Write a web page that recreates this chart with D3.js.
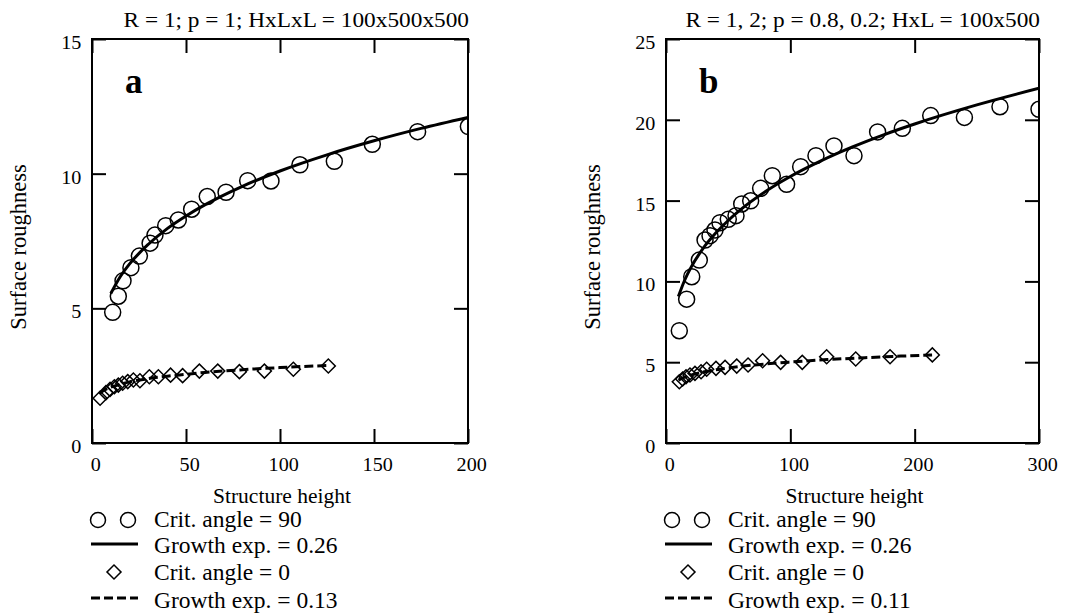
<!DOCTYPE html>
<html lang="en">
<head>
<meta charset="UTF-8">
<title>Surface roughness vs structure height</title>
<script src="https://d3js.org/d3.v7.min.js"></script>
<style>
    body { margin: 0; background: #fff; }
    svg text { font-family: "Liberation Serif", "Times New Roman", serif; fill: #000; }
</style>
</head>
<body>
<div id="chart"></div>
<script>
    // ---- panel a : R = 1; p = 1 ----
    var titleA = "R = 1; p = 1; HxLxL = 100x500x500";
    var xTicksA = [0, 50, 100, 150, 200];
    var yTicksA = [0, 5, 10, 15];
    var circX_A = [11, 14, 16.5, 20.7, 25.2, 30.9, 33.5, 39.2, 45.9, 53, 61.3, 71.3, 82.8, 95.2, 110.6, 128.9, 149.1, 173.2, 200.2];
    var circY_A = [4.85, 5.45, 6.02, 6.51, 6.94, 7.42, 7.72, 8.07, 8.28, 8.68, 9.15, 9.31, 9.74, 9.73, 10.33, 10.46, 11.09, 11.56, 11.75];
    var fitX_A = [10, 15, 20, 30, 40, 50, 60, 80, 100, 125, 150, 175, 200];
    var fitY_A = [5.55, 6.17, 6.65, 7.38, 7.96, 8.43, 8.84, 9.53, 10.1, 10.7, 11.22, 11.68, 12.09];
    var diaX_A = [4.3, 7.4, 9.6, 11.9, 14, 16.3, 19, 22, 25.5, 30.5, 35.3, 41.8, 48.2, 57.1, 66.9, 78.4, 91.7, 107.1, 125.7];
    var diaY_A = [1.66, 1.87, 1.99, 2.09, 2.15, 2.22, 2.28, 2.34, 2.31, 2.46, 2.46, 2.52, 2.5, 2.67, 2.67, 2.65, 2.67, 2.74, 2.86];
    var dashX_A = [4, 6, 10, 15, 20, 30, 40, 50, 60, 80, 100, 126];
    var dashY_A = [1.84, 1.94, 2.07, 2.18, 2.27, 2.39, 2.48, 2.55, 2.62, 2.72, 2.8, 2.88];
    var legendA = ["Crit. angle = 90", "Growth exp. = 0.26", "Crit. angle = 0", "Growth exp. = 0.13"];

    // ---- panel b : R = 1, 2; p = 0.8, 0.2 ----
    var titleB = "R = 1, 2; p = 0.8, 0.2; HxL = 100x500";
    var xTicksB = [0, 100, 200, 300];
    var yTicksB = [0, 5, 10, 15, 20, 25];
    var circX_B = [10.7, 16.6, 20.7, 26.8, 31.4, 35.4, 39.4, 43.4, 50.1, 56.3, 60.9, 68.1, 76.1, 85.5, 97, 108.3, 120.6, 135.1, 151.2, 170.2, 190.1, 212.9, 240, 268.6, 300];
    var circY_B = [6.95, 8.9, 10.29, 11.32, 12.56, 12.83, 13.18, 13.63, 13.84, 14.07, 14.79, 14.99, 15.76, 16.54, 16.01, 17.1, 17.78, 18.38, 17.78, 19.25, 19.47, 20.26, 20.15, 20.81, 20.65];
    var fitX_B = [10, 15, 20, 30, 40, 50, 60, 80, 100, 125, 150, 175, 200, 250, 300];
    var fitY_B = [9.07, 10.07, 10.85, 12.06, 12.99, 13.77, 14.44, 15.56, 16.49, 17.47, 18.32, 19.07, 19.74, 20.92, 21.95];
    var diaX_B = [10.7, 13.4, 16.1, 19.3, 23.3, 28.2, 32.7, 40.2, 47.5, 56.9, 66, 77.7, 92.2, 109.6, 129.2, 152.6, 180.2, 214.2];
    var diaY_B = [3.79, 3.96, 4.1, 4.21, 4.31, 4.41, 4.56, 4.62, 4.68, 4.76, 4.83, 5.09, 4.99, 4.99, 5.34, 5.2, 5.34, 5.45];
    var dashX_B = [10, 15, 20, 30, 40, 60, 80, 100, 130, 160, 190, 214];
    var dashY_B = [3.89, 4.07, 4.2, 4.39, 4.53, 4.74, 4.89, 5.01, 5.16, 5.28, 5.38, 5.45];
    var legendB = ["Crit. angle = 90", "Growth exp. = 0.26", "Crit. angle = 0", "Growth exp. = 0.11"];

    var W = 1069, H = 616;
    var stretch = 1.06; // title and tick numbers run a bit wide in the original
    var svg = d3.select("#chart").append("svg")
        .attr("width", W)
        .attr("height", H);

    function zip(xs, ys) {
        return xs.map(function (d, i) { return [d, ys[i]]; });
    }

    function panel(p) {
        var left = p.left, right = p.right, top = 39, bottom = 443;
        var x = d3.scaleLinear().domain([0, p.xMax]).range([left, right]);
        var y = d3.scaleLinear().domain([0, p.yMax]).range([bottom, top]);

        var clipId = "clip" + p.id;
        svg.append("clipPath").attr("id", clipId)
            .append("rect")
            .attr("x", left).attr("y", top)
            .attr("width", right - left).attr("height", bottom - top);

        // axes with inward ticks
        var gL = svg.append("g").attr("transform", "translate(" + left + ",0)")
            .call(d3.axisLeft(y).tickValues(p.yTicks).tickSize(-14).tickPadding(10));
        gL.selectAll("text").attr("dy", "0.5em");
        var gB = svg.append("g").attr("transform", "translate(0," + bottom + ")")
            .call(d3.axisBottom(x).tickValues(p.xTicks).tickSize(-14).tickPadding(0));
        gB.selectAll("text").attr("dy", 0).attr("y", 28).attr("dx", 3);
        svg.append("g").attr("transform", "translate(" + right + ",0)")
            .call(d3.axisRight(y).tickValues(p.yTicks).tickSize(-14).tickFormat(""));
        svg.append("g").attr("transform", "translate(0," + top + ")")
            .call(d3.axisTop(x).tickValues(p.xTicks).tickSize(-14).tickFormat(""));

        svg.selectAll(".domain").remove();
        svg.selectAll(".tick line").attr("stroke", "#000").attr("stroke-width", 2);
        svg.selectAll(".tick text")
            .style("font-size", "19px")
            .style("font-family", "Liberation Serif, serif")
            .attr("transform", "scale(" + stretch + ",1)");

        svg.append("rect")
            .attr("x", left).attr("y", top)
            .attr("width", right - left).attr("height", bottom - top)
            .attr("fill", "none").attr("stroke", "#000").attr("stroke-width", 2);

        // title
        svg.append("text")
            .attr("transform", "translate(" + (right + 1) + ",27) scale(" + stretch + ",1)")
            .attr("text-anchor", "end")
            .style("font-size", "22px")
            .text(p.title);

        // panel letter
        svg.append("text")
            .attr("x", left + 33).attr("y", 93)
            .style("font-size", "35px")
            .style("font-weight", "bold")
            .text(p.letter);

        // axis titles
        svg.append("text")
            .attr("x", (left + right) / 2 + 2).attr("y", 503)
            .attr("text-anchor", "middle")
            .style("font-size", "21.5px")
            .text("Structure height");
        svg.append("text")
            .attr("transform", "translate(" + (left - 66) + ",247) rotate(-90)")
            .attr("text-anchor", "middle")
            .style("font-size", "22.5px")
            .text("Surface roughness");

        var plot = svg.append("g").attr("clip-path", "url(#" + clipId + ")");
        var line = d3.line()
            .x(function (d) { return x(d[0]); })
            .y(function (d) { return y(d[1]); })
            .curve(d3.curveMonotoneX);

        plot.append("path")
            .datum(zip(p.fitX, p.fitY))
            .attr("d", line)
            .attr("fill", "none").attr("stroke", "#000").attr("stroke-width", 3);
        plot.append("path")
            .datum(zip(p.dashX, p.dashY))
            .attr("d", line)
            .attr("fill", "none").attr("stroke", "#000").attr("stroke-width", 3)
            .attr("stroke-dasharray", "9,4");

        plot.selectAll(".circ").data(zip(p.circX, p.circY)).enter()
            .append("circle")
            .attr("cx", function (d) { return x(d[0]); })
            .attr("cy", function (d) { return y(d[1]); })
            .attr("r", 8)
            .attr("fill", "none").attr("stroke", "#000").attr("stroke-width", 1.5);

        var diamond = d3.symbol().type(d3.symbolSquare).size(98);
        plot.selectAll(".dia").data(zip(p.diaX, p.diaY)).enter()
            .append("path")
            .attr("d", diamond)
            .attr("transform", function (d) { return "translate(" + x(d[0]) + "," + y(d[1]) + ") rotate(45)"; })
            .attr("fill", "none").attr("stroke", "#000").attr("stroke-width", 1.5);

        // legend
        var lg = svg.append("g");
        var rows = [520, 544, 572, 598];
        var baselines = [527, 553, 580, 608];
        lg.selectAll("circle").data([left + 6, left + 36]).enter()
            .append("circle")
            .attr("cx", function (d) { return d; }).attr("cy", rows[0])
            .attr("r", 7.5)
            .attr("fill", "none").attr("stroke", "#000").attr("stroke-width", 1.5);
        lg.append("line")
            .attr("x1", left - 1).attr("x2", left + 46)
            .attr("y1", rows[1]).attr("y2", rows[1])
            .attr("stroke", "#000").attr("stroke-width", 3);
        lg.append("path")
            .attr("d", diamond)
            .attr("transform", "translate(" + (left + 22) + "," + rows[2] + ") rotate(45)")
            .attr("fill", "none").attr("stroke", "#000").attr("stroke-width", 1.5);
        lg.append("line")
            .attr("x1", left - 1).attr("x2", left + 46)
            .attr("y1", rows[3]).attr("y2", rows[3])
            .attr("stroke", "#000").attr("stroke-width", 3)
            .attr("stroke-dasharray", "9,4");
        lg.selectAll("text").data(p.legend).enter()
            .append("text")
            .attr("x", left + 62)
            .attr("y", function (d, i) { return baselines[i]; })
            .style("font-size", "23.5px")
            .text(function (d) { return d; });
    }

    panel({
        id: "a", letter: "a", title: titleA, left: 92, right: 468, xMax: 200, yMax: 15,
        xTicks: xTicksA, yTicks: yTicksA,
        circX: circX_A, circY: circY_A, fitX: fitX_A, fitY: fitY_A,
        diaX: diaX_A, diaY: diaY_A, dashX: dashX_A, dashY: dashY_A, legend: legendA
    });
    panel({
        id: "b", letter: "b", title: titleB, left: 666, right: 1039, xMax: 300, yMax: 25,
        xTicks: xTicksB, yTicks: yTicksB,
        circX: circX_B, circY: circY_B, fitX: fitX_B, fitY: fitY_B,
        diaX: diaX_B, diaY: diaY_B, dashX: dashX_B, dashY: dashY_B, legend: legendB
    });
</script>
</body>
</html>
